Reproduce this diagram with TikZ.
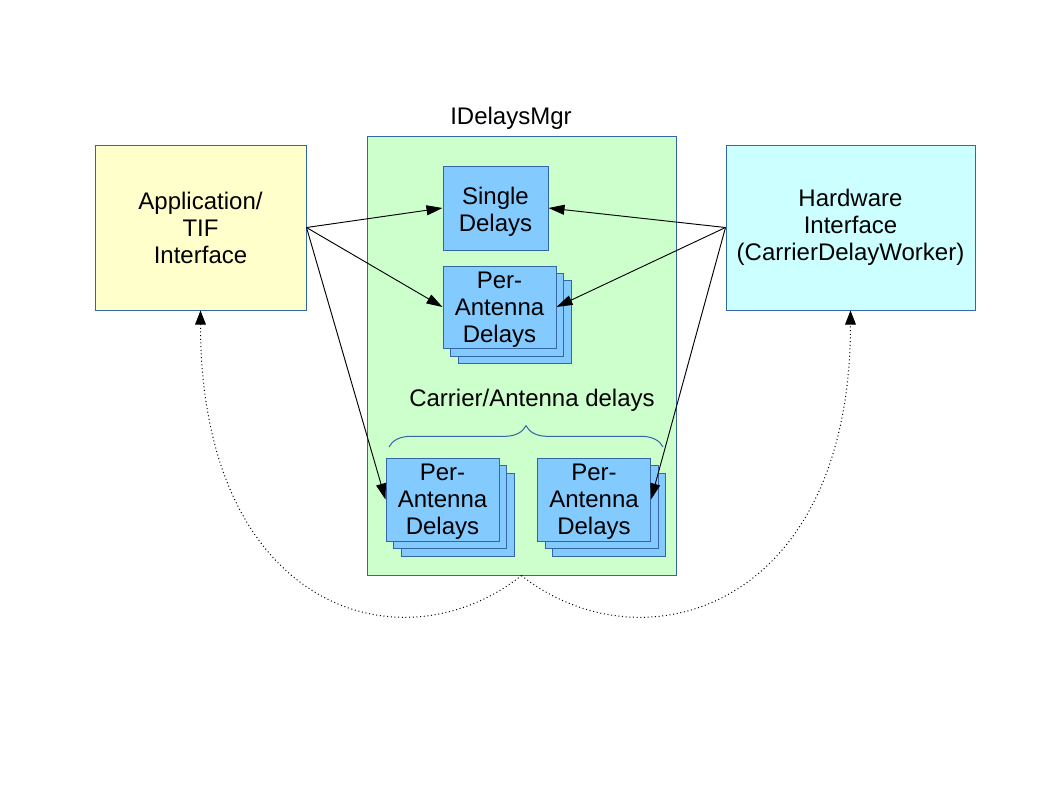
\documentclass[tikz,border=0pt]{standalone}
\usepackage{fontspec}
\setmainfont{Liberation Sans}
\usetikzlibrary{arrows.meta,decorations.pathreplacing}
\definecolor{bord}{HTML}{3465A4}
\definecolor{appfill}{HTML}{FFFFCC}
\definecolor{mgrfill}{HTML}{CCFFCC}
\definecolor{hwfill}{HTML}{CCFFFF}
\definecolor{dfill}{HTML}{83CAFF}
\begin{document}
\begin{tikzpicture}[x=0.75pt,y=-0.75pt,
  lbl/.style={font=\fontsize{18}{20.25}\selectfont, align=center, inner sep=0pt},
  box/.style={lbl, draw=bord, line width=0.75pt},
  dbox/.style={box, fill=dfill, minimum width=113*0.75pt, minimum height=83*0.75pt},
  intext/.style={label={[lbl, yshift=-2pt]center:{#1}}},
  conn/.style={line width=0.7pt, -{Triangle[length=12pt,width=7.5pt]}},
  dots/.style={line width=0.75pt, dotted, -{Triangle[length=10.5pt,width=8pt]}},
  bracestyle/.style={draw=bord, line width=0.75pt, decorate, decoration={brace, amplitude=16pt}}]
\useasboundingbox (0,0) rectangle (1058,794);
\fill[white] (0,0) rectangle (1058,794);

% main boxes
\node[box, fill=appfill, minimum width=211*0.75pt, minimum height=165*0.75pt] (app) at (200.5,227.5) {Application/\\TIF\\Interface};
\node[box, fill=mgrfill, minimum width=309*0.75pt, minimum height=439*0.75pt] (mgr) at (521.5,355.5) {};
\node[lbl, anchor=base] (mgrlbl) at (511,124) {IDelaysMgr};
\node[box, fill=hwfill, minimum width=249*0.75pt, minimum height=165*0.75pt] (hw) at (850.5,227.5) {Hardware\\Interface\\(CarrierDelayWorker)};

% single delays
\node[box, fill=dfill, minimum width=105*0.75pt, minimum height=84*0.75pt,
      label={[lbl, yshift=-3pt]center:{Single\\Delays}}] (single) at (495.5,208) {};

% per-antenna stack (top)
\node[dbox] (paAc) at (514.5,322) {};
\node[dbox] (paAb) at (507,314.5) {};
\node[dbox, minimum height=82*0.75pt, intext={Per-\\Antenna\\Delays}] (paA) at (499.5,307) {};

% carrier/antenna label and brace
\node[lbl] (carlbl) at (532,400) {Carrier/Antenna delays};
\coordinate (brL) at (389,447);
\coordinate (brR) at (663,447);
\draw[bracestyle] (brL) -- (brR);

% per-antenna stack (bottom left)
\node[dbox] (paBc) at (457.5,514.5) {};
\node[dbox] (paBb) at (450,507) {};
\node[dbox, intext={Per-\\Antenna\\Delays}] (paB) at (442.5,499.5) {};

% per-antenna stack (bottom right)
\node[dbox] (paCc) at (609,514.5) {};
\node[dbox] (paCb) at (601.5,507) {};
\node[dbox, intext={Per-\\Antenna\\Delays}] (paC) at (594,499.5) {};

% connectors
\draw[conn] (app.east) -- (single.west);
\draw[conn] (app.east) -- (paA.west);
\draw[conn] (app.east) -- (paB.west);
\draw[conn] (hw.west) -- (single.east);
\draw[conn] (hw.west) -- (paA.east);
\draw[conn] (hw.west) -- (paC.east);

% dotted return paths
\draw[dots] (mgr.south) .. controls +(-120,95) and +(0,300) .. (app.south);
\draw[dots] (mgr.south) .. controls +(120,95) and +(0,300) .. (hw.south);
\end{tikzpicture}
\end{document}
